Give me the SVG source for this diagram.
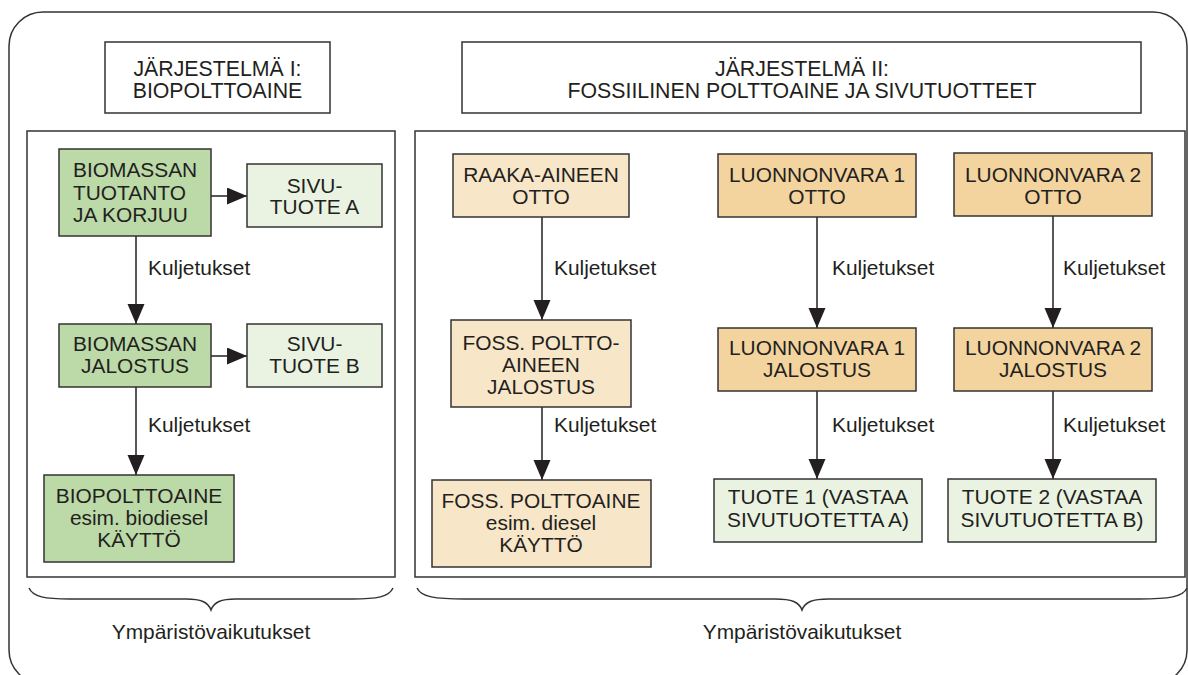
<svg xmlns="http://www.w3.org/2000/svg" width="1188" height="675" viewBox="0 0 1188 675">
<style>
.frame{fill:#fff;stroke:#333;stroke-width:1.5}
.t{font-family:"Liberation Sans",Arial,sans-serif;font-size:20.9px;fill:#231f20}
.h{font-size:21.3px}
.c{text-anchor:middle}
.n{stroke:#333;stroke-width:1.5}
.g1{fill:#bcd9a8}
.g2{fill:#eaf3e2}
.o1{fill:#f8e6c8}
.o2{fill:#f3d39e}
.conn{stroke:#231f20;stroke-width:1.5;fill:none;marker-end:url(#ah)}
.brace{stroke:#333;stroke-width:1.5;fill:none}
</style>
<defs>
<marker id="ah" markerUnits="userSpaceOnUse" markerWidth="21" markerHeight="18" refX="20" refY="8.5" orient="auto">
<path d="M0,0 L20,8.5 L0,17 z" fill="#231f20"/>
</marker>
</defs>
<rect x="9" y="12" width="1178" height="672" rx="34" ry="34" fill="#fff" stroke="#333" stroke-width="1.5"/>

<g id="title1">
<rect class="frame" x="105" y="42" width="225" height="71"/>
<text class="t h c" x="217.5" y="76">JÄRJESTELMÄ I:</text>
<text class="t h c" x="217.5" y="98">BIOPOLTTOAINE</text>
</g>
<g id="title2">
<rect class="frame" x="462" y="42" width="679" height="71"/>
<text class="t h c" x="802" y="76">JÄRJESTELMÄ II:</text>
<text class="t h c" x="802" y="98">FOSSIILINEN POLTTOAINE JA SIVUTUOTTEET</text>
</g>

<g id="system1"><rect class="frame" x="27" y="131" width="368" height="446"/></g>
<g id="system2"><rect class="frame" x="415" y="131" width="770" height="446"/></g>

<g id="connectors">
<line class="conn" x1="211" y1="196" x2="247" y2="196"/>
<line class="conn" x1="211" y1="356" x2="247" y2="356"/>
<line class="conn" x1="136" y1="236" x2="136" y2="324"/>
<line class="conn" x1="136" y1="387" x2="136" y2="475"/>
<line class="conn" x1="542" y1="217" x2="542" y2="320"/>
<line class="conn" x1="542" y1="407" x2="542" y2="480"/>
<line class="conn" x1="817" y1="217" x2="817" y2="328"/>
<line class="conn" x1="817" y1="391" x2="817" y2="479"/>
<line class="conn" x1="1053" y1="216" x2="1053" y2="328"/>
<line class="conn" x1="1053" y1="391" x2="1053" y2="479"/>
<text class="t" x="148" y="275">Kuljetukset</text>
<text class="t" x="148" y="432">Kuljetukset</text>
<text class="t" x="554" y="275">Kuljetukset</text>
<text class="t" x="554" y="432">Kuljetukset</text>
<text class="t" x="832" y="275">Kuljetukset</text>
<text class="t" x="832" y="432">Kuljetukset</text>
<text class="t" x="1063" y="275">Kuljetukset</text>
<text class="t" x="1063" y="432">Kuljetukset</text>
</g>

<g id="bio-tuotanto">
<rect class="n g1" x="59" y="149" width="152" height="87"/>
<text class="t" x="73" y="177">BIOMASSAN</text>
<text class="t" x="73" y="199.5">TUOTANTO</text>
<text class="t" x="73" y="222">JA KORJUU</text>
</g>
<g id="sivutuote-a">
<rect class="n g2" x="247" y="164" width="135" height="63"/>
<text class="t c" x="314.5" y="193">SIVU-</text>
<text class="t c" x="314.5" y="214">TUOTE A</text>
</g>
<g id="bio-jalostus">
<rect class="n g1" x="59" y="324" width="152" height="63"/>
<text class="t c" x="135" y="351">BIOMASSAN</text>
<text class="t c" x="135" y="373">JALOSTUS</text>
</g>
<g id="sivutuote-b">
<rect class="n g2" x="247" y="324" width="135" height="63"/>
<text class="t c" x="314.5" y="351">SIVU-</text>
<text class="t c" x="314.5" y="373">TUOTE B</text>
</g>
<g id="biopolttoaine">
<rect class="n g1" x="44" y="475" width="190" height="87"/>
<text class="t c" x="139" y="503">BIOPOLTTOAINE</text>
<text class="t c" x="139" y="525">esim. biodiesel</text>
<text class="t c" x="139" y="547">KÄYTTÖ</text>
</g>

<g id="raaka-aine">
<rect class="n o1" x="453" y="154" width="176" height="63"/>
<text class="t c" x="541" y="182">RAAKA-AINEEN</text>
<text class="t c" x="541" y="204">OTTO</text>
</g>
<g id="foss-jalostus">
<rect class="n o1" x="451" y="320" width="180" height="87"/>
<text class="t c" x="541" y="350">FOSS. POLTTO-</text>
<text class="t c" x="541" y="372">AINEEN</text>
<text class="t c" x="541" y="394">JALOSTUS</text>
</g>
<g id="foss-polttoaine">
<rect class="n o1" x="432" y="480" width="219" height="87"/>
<text class="t c" x="541" y="508">FOSS. POLTTOAINE</text>
<text class="t c" x="541" y="530">esim. diesel</text>
<text class="t c" x="541" y="552">KÄYTTÖ</text>
</g>

<g id="lv1-otto">
<rect class="n o2" x="718" y="154" width="198" height="63"/>
<text class="t c" x="817" y="182">LUONNONVARA 1</text>
<text class="t c" x="817" y="204">OTTO</text>
</g>
<g id="lv1-jalostus">
<rect class="n o2" x="718" y="328" width="198" height="63"/>
<text class="t c" x="817" y="355">LUONNONVARA 1</text>
<text class="t c" x="817" y="377">JALOSTUS</text>
</g>
<g id="tuote1">
<rect class="n g2" x="714" y="479" width="208" height="63"/>
<text class="t c" x="818" y="504">TUOTE 1 (VASTAA</text>
<text class="t c" x="818" y="527">SIVUTUOTETTA A)</text>
</g>

<g id="lv2-otto">
<rect class="n o2" x="954" y="153" width="198" height="63"/>
<text class="t c" x="1053" y="182">LUONNONVARA 2</text>
<text class="t c" x="1053" y="204">OTTO</text>
</g>
<g id="lv2-jalostus">
<rect class="n o2" x="954" y="328" width="198" height="63"/>
<text class="t c" x="1053" y="355">LUONNONVARA 2</text>
<text class="t c" x="1053" y="377">JALOSTUS</text>
</g>
<g id="tuote2">
<rect class="n g2" x="948" y="479" width="208" height="63"/>
<text class="t c" x="1052" y="504">TUOTE 2 (VASTAA</text>
<text class="t c" x="1052" y="527">SIVUTUOTETTA B)</text>
</g>

<g id="impacts1">
<path class="brace" d="M29,588 C33,597 45,599 70,599 L186,599 C201,599 208,602 211,610 C214,602 221,599 236,599 L352,599 C377,599 389,597 393,588"/>
<text class="t c" x="211" y="639">Ympäristövaikutukset</text>
</g>
<g id="impacts2">
<path class="brace" d="M417,588 C421,597 435,599 465,599 L775,599 C792,599 799,602 802,610 C805,602 812,599 829,599 L1139,599 C1169,599 1183,597 1187,588"/>
<text class="t c" x="802" y="639">Ympäristövaikutukset</text>
</g>
</svg>
